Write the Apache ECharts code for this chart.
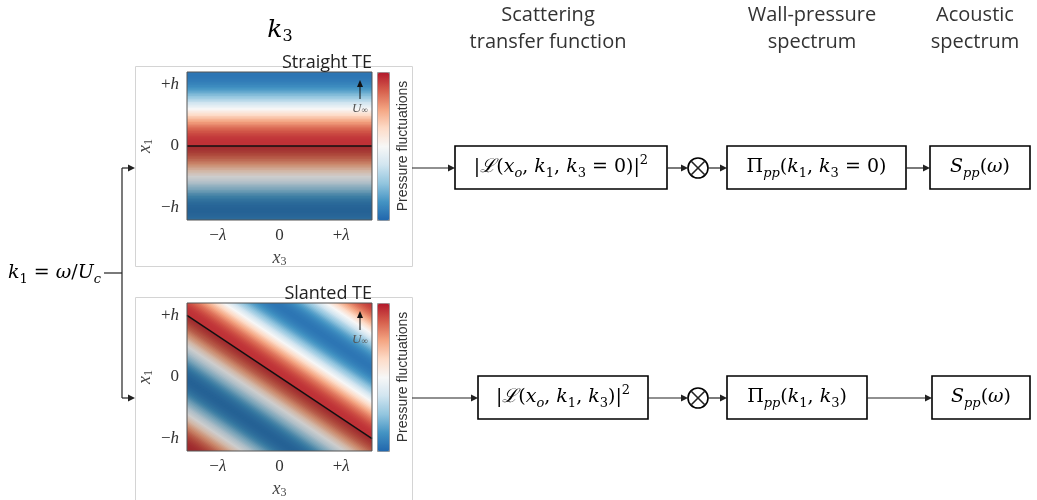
<!DOCTYPE html>
<html>
<head>
<meta charset="utf-8">
<title>Straight vs slanted TE</title>
<script src="https://cdn.jsdelivr.net/npm/echarts@6/dist/echarts.min.js"></script>
<style>
  html, body { margin: 0; padding: 0; background: #fff; }
  #main { width: 1037px; height: 500px; }
</style>
</head>
<body>
<div id="main"></div>
<script>
// pressure read along the phase coordinate s = x1 + 2/3*x3, from s = -2.2 to 2.2, step 0.025
var pressureProfile = [
  0.99, 1.00, 1.00,
  1.00, 0.99, 0.98, 0.96, 0.94, 0.91, 0.88, 0.84, 0.80, 0.76, 0.71, 0.65, 0.60, 0.54, 0.48, 0.42, 0.35, 0.28, 0.21, 0.14, 0.07, 0.00,
  -0.07, -0.14, -0.21, -0.28, -0.35, -0.42, -0.48, -0.54, -0.60, -0.65, -0.71, -0.76, -0.80, -0.84, -0.88, -0.91, -0.94, -0.96, -0.98, -0.99, -1.00, -1.00,
  -1.00, -0.99, -0.98, -0.96, -0.94, -0.91, -0.88, -0.84, -0.80, -0.76, -0.71, -0.65, -0.60, -0.54, -0.48, -0.42, -0.35, -0.28, -0.21, -0.14, -0.07, 0.00,
  0.07, 0.14, 0.21, 0.28, 0.35, 0.42, 0.48, 0.54, 0.60, 0.65, 0.71, 0.76, 0.80, 0.84, 0.88, 0.91, 0.94, 0.96, 0.98, 0.99, 1.00, 1.00,
  1.00, 0.99, 0.98, 0.96, 0.94, 0.91, 0.88, 0.84, 0.80, 0.76, 0.71, 0.65, 0.60, 0.54, 0.48, 0.42, 0.35, 0.28, 0.21, 0.14, 0.07, 0.00,
  -0.07, -0.14, -0.21, -0.28, -0.35, -0.42, -0.48, -0.54, -0.60, -0.65, -0.71, -0.76, -0.80, -0.84, -0.88, -0.91, -0.94, -0.96, -0.98, -0.99, -1.00, -1.00,
  -1.00, -0.99, -0.98, -0.96, -0.94, -0.91, -0.88, -0.84, -0.80, -0.76, -0.71, -0.65, -0.60, -0.54, -0.48, -0.42, -0.35, -0.28, -0.21, -0.14, -0.07, 0.00,
  0.07, 0.14, 0.21, 0.28, 0.35, 0.42, 0.48, 0.54, 0.60, 0.65, 0.71, 0.76, 0.80, 0.84, 0.88, 0.91, 0.94, 0.96, 0.98, 0.99
];
var x3Names = ['{u|−}{i|λ}', '{u|0}', '{u|+}{i|λ}'];
var x1Names = ['{u|−}{i|h}', '{u|0}', '{u|+}{i|h}'];
var straightTE = [[-1.5, 0], [1.5, 0]];
var slantedTE = [[-1.5, 1], [1.5, -1]];
var panelTitles = ['Straight TE', 'Slanted TE'];
var rdbu = ['#2166ac', '#4393c3', '#92c5de', '#d1e5f0', '#f7f7f7', '#fddbc7', '#f4a582', '#d6604d', '#b2182b'];

var serifFont = "'Liberation Serif', 'DejaVu Serif', serif";
var mathFont = "'DejaVu Serif', 'Liberation Serif', serif";
var sansFont = "'Open Sans', 'Liberation Sans', sans-serif";

// one band per profile value: [phase s, pressure]; drawn from high s to low s
var bands = pressureProfile.map(function (v, p) {
  return [-2.2 + 0.025 * p, v];
}).reverse();

// each band runs from its upper edge far down; the next (lower) band paints over the rest,
// so no seams show between neighbours
var EDGE = 0.0125, TAIL = 0.1;
function renderStraight(params, api) {
  var s = api.value(0);
  var a = api.coord([-1.5, s + EDGE]);
  var b = api.coord([1.5, s - TAIL]);
  return {
    type: 'rect',
    shape: { x: a[0], y: a[1], width: b[0] - a[0], height: b[1] - a[1] },
    style: { fill: api.visual('color') }
  };
}
// slanted TE: x1 = s - 2/3*x3, so the band is a parallelogram
function renderSlanted(params, api) {
  var s = api.value(0);
  return {
    type: 'polygon',
    shape: { points: [
      api.coord([-1.5, s + 1 + EDGE]), api.coord([1.5, s - 1 + EDGE]),
      api.coord([1.5, s - 1 - TAIL]), api.coord([-1.5, s + 1 - TAIL])
    ] },
    style: { fill: api.visual('color') }
  };
}

function tickText(v, names) {
  if (Math.abs(v + 1) < 1e-6) return names[0];
  if (Math.abs(v) < 1e-6) return names[1];
  if (Math.abs(v - 1) < 1e-6) return names[2];
  return '';
}

var tickRich = {
  u: { fontFamily: serifFont, fontSize: 17, color: '#333' },
  i: { fontFamily: serifFont, fontSize: 17, fontStyle: 'italic', color: '#333' }
};
var nameRich = {
  i: { fontFamily: serifFont, fontSize: 18, fontStyle: 'italic', color: '#444', lineHeight: 20 },
  s: { fontFamily: serifFont, fontSize: 12, color: '#444', verticalAlign: 'bottom' }
};

function makeX(g) {
  return {
    type: 'value', gridIndex: g, min: -1.5, max: 1.5, interval: 0.5,
    axisLine: { show: false }, axisTick: { show: false }, splitLine: { show: false },
    axisLabel: { margin: 7, rich: tickRich, formatter: function (v) { return tickText(v, x3Names); } },
    name: '{i|x}{s|3}', nameLocation: 'middle', nameGap: 28, nameTextStyle: { rich: nameRich }
  };
}
function makeY(g) {
  return {
    type: 'value', gridIndex: g, min: -1.2, max: 1.2, interval: 0.2,
    axisLine: { show: false }, axisTick: { show: false }, splitLine: { show: false },
    axisLabel: { margin: 8, rich: tickRich, formatter: function (v) { return tickText(v, x1Names); } },
    name: '{i|x}{s|1}', nameLocation: 'middle', nameGap: 32, nameTextStyle: { rich: nameRich }
  };
}
function makeMap(s, top) {
  return {
    type: 'continuous', seriesIndex: s, dimension: 1, min: -1.1, max: 1.1,
    calculable: false, left: 377, top: top, itemWidth: 12, itemHeight: 148,
    padding: 0, borderColor: '#999', borderWidth: 1,
    inRange: { color: rdbu }
  };
}

// ---- diagram parts (frames, arrows, boxes) ----
var diagram = [];
var ink = '#222';

function line(x1, y1, x2, y2, w) {
  diagram.push({ type: 'line', shape: { x1: x1, y1: y1, x2: x2, y2: y2 }, style: { stroke: ink, lineWidth: w || 1.2 }, z: 50 });
}
function arrow(x1, y, x2) {
  line(x1, y, x2 - 6, y);
  diagram.push({ type: 'polygon', shape: { points: [[x2, y], [x2 - 7, y - 3.5], [x2 - 7, y + 3.5]] }, style: { fill: ink }, z: 50 });
}
function upArrow(x, y1, y2) {
  diagram.push({ type: 'line', shape: { x1: x, y1: y1, x2: x, y2: y2 + 5 }, style: { stroke: '#111', lineWidth: 1 }, z: 60 });
  diagram.push({ type: 'polygon', shape: { points: [[x, y2], [x - 3, y2 + 7], [x + 3, y2 + 7]] }, style: { fill: '#111' }, z: 60 });
  diagram.push({ type: 'text', x: x, y: y1 + 10, z: 60, style: { text: '{i|U}{s|∞}', align: 'center', verticalAlign: 'middle',
    rich: { i: { fontFamily: serifFont, fontSize: 13, fontStyle: 'italic', fill: '#555' }, s: { fontFamily: serifFont, fontSize: 9, fill: '#555', verticalAlign: 'bottom' } } } });
}
var mathRich = {
  n: { fontFamily: mathFont, fontSize: 19, fill: '#000', lineHeight: 26 },
  i: { fontFamily: mathFont, fontSize: 19, fontStyle: 'italic', fill: '#000', lineHeight: 26 },
  s: { fontFamily: mathFont, fontSize: 13, fill: '#000', verticalAlign: 'bottom' },
  si: { fontFamily: mathFont, fontSize: 13, fontStyle: 'italic', fill: '#000', verticalAlign: 'bottom' },
  p: { fontFamily: mathFont, fontSize: 13, fill: '#000', verticalAlign: 'top' }
};
function box(x, y, w, h, text) {
  diagram.push({ type: 'rect', shape: { x: x, y: y, width: w, height: h }, style: { fill: '#fff', stroke: '#000', lineWidth: 1.6 }, z: 50 });
  diagram.push({ type: 'text', x: x + w / 2, y: y + h / 2, z: 51, style: { text: text, align: 'center', verticalAlign: 'middle', rich: mathRich } });
}
function times(cx, cy) {
  diagram.push({ type: 'circle', shape: { cx: cx, cy: cy, r: 10 }, style: { fill: '#fff', stroke: '#000', lineWidth: 1.6 }, z: 50 });
  line(cx - 7, cy - 7, cx + 7, cy + 7, 1.6);
  line(cx - 7, cy + 7, cx + 7, cy - 7, 1.6);
}
function label(x, y, text, size, align, color) {
  diagram.push({ type: 'text', x: x, y: y, z: 55, style: { text: text, fill: color || '#333', font: size + 'px ' + sansFont, align: align || 'center', verticalAlign: 'middle' } });
}

// panel frames, plot borders, titles, colorbar labels
[0, 231].forEach(function (dy, k) {
  diagram.push({ type: 'rect', shape: { x: 135.5, y: 66.5 + dy, width: 277, height: 200 + (k ? 20 : 0) }, style: { fill: 'none', stroke: '#d4d4d4', lineWidth: 1 }, z: 1 });
  diagram.push({ type: 'rect', shape: { x: 187, y: 72 + dy, width: 185, height: 148 }, style: { fill: 'none', stroke: '#555', lineWidth: 1 }, z: 40 });
  label(372, 63 + dy, panelTitles[k], 18, 'right', '#222');
  diagram.push({ type: 'text', x: 403, y: 146 + dy, rotation: Math.PI / 2, z: 55,
    style: { text: 'Pressure fluctuations', fill: '#333', font: '14px ' + "'Liberation Sans', sans-serif", align: 'center', verticalAlign: 'middle' } });
  upArrow(360, 99 + dy, 80 + dy);
});

diagram.push({ type: 'text', x: 280, y: 30, z: 55, style: { text: '{i|k}{s|3}', align: 'center', verticalAlign: 'middle',
  rich: { i: { fontFamily: mathFont, fontSize: 25, fontStyle: 'italic', fill: '#000', lineHeight: 30 }, s: { fontFamily: mathFont, fontSize: 16, fill: '#000', verticalAlign: 'bottom' } } } });
diagram.push({ type: 'text', x: 8, y: 273, z: 55, style: { text: '{i|k}{s|1}{n| = }{i|ω}{n|/}{i|U}{si|c}', align: 'left', verticalAlign: 'middle', rich: mathRich } });

// left bracket
line(104, 273, 122, 273);
line(122, 168, 122, 398);
arrow(122, 168, 135);
arrow(122, 398, 135);

// headers
label(548, 15, 'Scattering', 20);
label(548, 42, 'transfer function', 20);
label(812, 15, 'Wall-pressure', 20);
label(812, 42, 'spectrum', 20);
label(975, 15, 'Acoustic', 20);
label(975, 42, 'spectrum', 20);

// top row
arrow(412, 168, 455);
box(455, 146, 212, 43, '{n||}{i|ℒ}{n|(}{i|x}{si|o}{n|, }{i|k}{s|1}{n|, }{i|k}{s|3}{n| = 0)|}{p|2}');
arrow(667, 168, 688);
times(698, 168);
arrow(708, 168, 727);
box(727, 146, 179, 43, '{n|Π}{si|pp}{n|(}{i|k}{s|1}{n|, }{i|k}{s|3}{n| = 0)}');
arrow(906, 168, 930);
box(930, 146, 100, 43, '{i|S}{si|pp}{n|(}{i|ω}{n|)}');

// bottom row
arrow(412, 398, 478);
box(478, 376, 170, 43, '{n||}{i|ℒ}{n|(}{i|x}{si|o}{n|, }{i|k}{s|1}{n|, }{i|k}{s|3}{n|)|}{p|2}');
arrow(648, 398, 688);
times(698, 398);
arrow(708, 398, 727);
box(727, 376, 140, 43, '{n|Π}{si|pp}{n|(}{i|k}{s|1}{n|, }{i|k}{s|3}{n|)}');
arrow(867, 398, 932);
box(932, 376, 98, 43, '{i|S}{si|pp}{n|(}{i|ω}{n|)}');

var shade = 'rgba(0,0,0,0.24)';
var option = {
  animation: false,
  grid: [
    { left: 187, top: 72, width: 185, height: 148, outerBoundsMode: 'none' },
    { left: 187, top: 303, width: 185, height: 148, outerBoundsMode: 'none' }
  ],
  xAxis: [makeX(0), makeX(1)],
  yAxis: [makeY(0), makeY(1)],
  visualMap: [makeMap(0, 72), makeMap(1, 303)],
  series: [
    { type: 'custom', xAxisIndex: 0, yAxisIndex: 0, data: bands, renderItem: renderStraight, clip: true, progressive: 0, silent: true },
    { type: 'custom', xAxisIndex: 1, yAxisIndex: 1, data: bands, renderItem: renderSlanted, clip: true, progressive: 0, silent: true },
    { type: 'line', xAxisIndex: 0, yAxisIndex: 0, data: straightTE, symbol: 'none', silent: true, z: 3,
      lineStyle: { color: '#111', width: 1.5 }, areaStyle: { origin: 'start', color: shade } },
    { type: 'line', xAxisIndex: 1, yAxisIndex: 1, data: slantedTE, symbol: 'none', silent: true, z: 3,
      lineStyle: { color: '#111', width: 1.5 }, areaStyle: { origin: 'start', color: shade } }
  ],
  graphic: diagram
};

var myChart = echarts.init(document.getElementById('main'));
myChart.setOption(option);
</script>
</body>
</html>
